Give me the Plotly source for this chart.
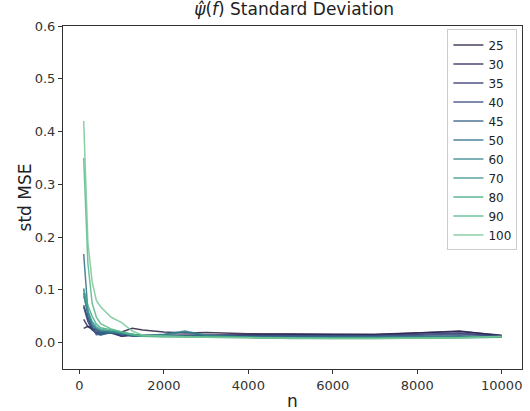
import plotly.graph_objects as go

n_values = [100, 200, 300, 400, 500, 750, 1000, 1250, 1500, 2000, 2500, 3000, 4000, 5000, 6000, 7000, 8000, 9000, 10000]

series_names = ["25", "30", "35", "40", "45", "50", "60", "70", "80", "90", "100"]

std_25 = [0.027, 0.031, 0.028, 0.024, 0.022, 0.020, 0.020, 0.027, 0.024, 0.020, 0.018, 0.019, 0.017, 0.016, 0.016, 0.016, 0.018, 0.021, 0.014]
std_30 = [0.044, 0.030, 0.025, 0.020, 0.019, 0.018, 0.012, 0.015, 0.014, 0.014, 0.014, 0.015, 0.015, 0.016, 0.016, 0.015, 0.018, 0.022, 0.013]
std_35 = [0.068, 0.040, 0.024, 0.019, 0.017, 0.020, 0.012, 0.014, 0.012, 0.013, 0.013, 0.013, 0.013, 0.014, 0.014, 0.014, 0.016, 0.018, 0.012]
std_40 = [0.071, 0.045, 0.028, 0.015, 0.016, 0.018, 0.015, 0.013, 0.013, 0.012, 0.012, 0.012, 0.012, 0.012, 0.013, 0.012, 0.014, 0.016, 0.012]
std_45 = [0.094, 0.050, 0.030, 0.018, 0.014, 0.020, 0.017, 0.012, 0.012, 0.013, 0.012, 0.012, 0.011, 0.011, 0.011, 0.011, 0.012, 0.013, 0.011]
std_50 = [0.168, 0.060, 0.033, 0.025, 0.018, 0.019, 0.016, 0.014, 0.013, 0.015, 0.020, 0.013, 0.011, 0.010, 0.010, 0.010, 0.011, 0.011, 0.010]
std_60 = [0.103, 0.055, 0.035, 0.027, 0.022, 0.020, 0.018, 0.014, 0.013, 0.016, 0.022, 0.014, 0.010, 0.009, 0.009, 0.009, 0.010, 0.010, 0.010]
std_70 = [0.088, 0.060, 0.040, 0.030, 0.025, 0.022, 0.020, 0.016, 0.013, 0.013, 0.012, 0.011, 0.010, 0.009, 0.009, 0.009, 0.009, 0.010, 0.010]
std_80 = [0.100, 0.070, 0.050, 0.035, 0.028, 0.024, 0.020, 0.016, 0.012, 0.011, 0.011, 0.010, 0.010, 0.008, 0.008, 0.008, 0.009, 0.009, 0.010]
std_90 = [0.350, 0.150, 0.075, 0.048, 0.036, 0.026, 0.020, 0.015, 0.012, 0.011, 0.010, 0.010, 0.009, 0.008, 0.008, 0.008, 0.008, 0.009, 0.011]
std_100 = [0.420, 0.190, 0.115, 0.080, 0.068, 0.048, 0.038, 0.022, 0.014, 0.012, 0.011, 0.010, 0.009, 0.009, 0.008, 0.008, 0.008, 0.009, 0.012]

all_series = [std_25, std_30, std_35, std_40, std_45, std_50, std_60, std_70, std_80, std_90, std_100]

x_tick_vals = [0, 2000, 4000, 6000, 8000, 10000]
x_tick_text = ["0", "2000", "4000", "6000", "8000", "10000"]
y_tick_vals = [0.0, 0.1, 0.2, 0.3, 0.4, 0.5, 0.6]
y_tick_text = ["0.0", "0.1", "0.2", "0.3", "0.4", "0.5", "0.6"]

colors = ["rgba(42,30,62,0.85)", "rgba(42,38,88,0.85)", "rgba(48,52,108,0.85)", "rgba(52,72,122,0.85)",
          "rgba(52,92,132,0.85)", "rgba(45,110,138,0.85)", "rgba(52,130,142,0.85)", "rgba(58,152,140,0.85)",
          "rgba(64,170,132,0.85)", "rgba(86,184,138,0.85)", "rgba(120,198,152,0.85)"]

fig = go.Figure()
for name, vals, col in zip(series_names, all_series, colors):
    fig.add_trace(go.Scatter(x=n_values, y=vals, mode="lines", name=name,
                             line=dict(color=col, width=1.5)))

axis_common = dict(showline=True, linecolor="#333", linewidth=1, mirror=True,
                   ticks="outside", ticklen=4, tickcolor="#333", showgrid=False,
                   zeroline=False, tickfont=dict(size=13, color="#333"),
                   automargin=False, ticklabeloverflow="allow")

fig.update_layout(
    width=530, height=411,
    margin=dict(l=63, r=8, t=26, b=42, autoexpand=False),
    paper_bgcolor="white", plot_bgcolor="white",
    font=dict(family="DejaVu Sans", color="#222"),
    title=dict(text="<i>ψ̂</i>(<i>f</i>) Standard Deviation", x=0.555, xanchor="center",
               y=0.992, yanchor="top", font=dict(size=17)),
    xaxis=dict(range=[-390, 10480], tickvals=x_tick_vals, ticktext=x_tick_text, **axis_common),
    yaxis=dict(range=[-0.05, 0.6], tickvals=y_tick_vals, ticktext=y_tick_text, **axis_common),
    legend=dict(x=0.99, xanchor="right", y=0.99, yanchor="top",
                bordercolor="#ccc", borderwidth=1, bgcolor="rgba(255,255,255,0.8)",
                font=dict(size=12, color="#222"), tracegroupgap=0),
    showlegend=True,
    annotations=[
        dict(text="n", xref="paper", yref="paper", x=0.5, y=-0.092, xanchor="center",
             yanchor="middle", showarrow=False, font=dict(size=17, color="#222")),
        dict(text="std MSE", xref="paper", yref="paper", x=-0.083, y=0.5, xanchor="center",
             yanchor="middle", textangle=-90, showarrow=False, font=dict(size=17, color="#222")),
    ],
)

fig.write_html("out.html", config={"displayModeBar": False},
               post_script="document.body.style.margin='0';document.body.style.overflow='hidden';")
